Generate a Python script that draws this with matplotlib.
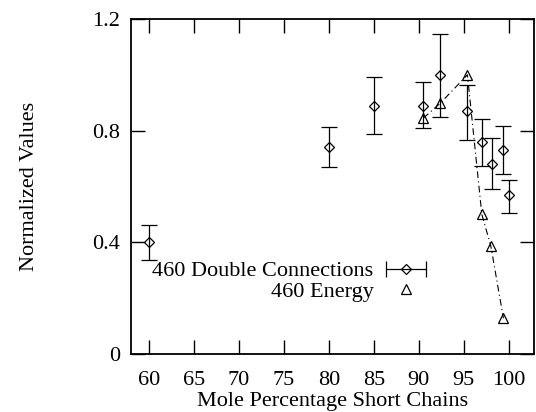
import matplotlib
matplotlib.use("Agg")
import matplotlib.pyplot as plt
from matplotlib.legend_handler import HandlerErrorbar
import numpy as np

# Data: 460 Double Connections (with asymmetric error bars)
x_dc = [60, 80, 85, 90.5, 92.4, 95.4, 97.0, 98.1, 99.4, 100.0]
y_dc = [0.40, 0.74, 0.89, 0.89, 1.00, 0.87, 0.76, 0.68, 0.73, 0.57]
y_dc_hi = [0.463, 0.814, 0.994, 0.973, 1.148, 0.963, 0.842, 0.775, 0.817, 0.625]
y_dc_lo = [0.336, 0.669, 0.788, 0.811, 0.849, 0.768, 0.674, 0.592, 0.644, 0.506]

# Data: 460 Energy
x_en = [90.5, 92.4, 95.4, 97.0, 98.0, 99.4]
y_en = [0.845, 0.899, 1.00, 0.50, 0.387, 0.128]

x_ticks = [60, 65, 70, 75, 80, 85, 90, 95, 100]
y_ticks = [0, 0.4, 0.8, 1.2]
y_tick_labels = ["0", "0.4", "0.8", "1.2"]

plt.rcParams['font.family'] = ['Liberation Serif', 'DejaVu Serif']
plt.rcParams['font.size'] = 16

fig = plt.figure(figsize=(5.36, 4.12), dpi=100)
ax = fig.add_axes([131/536, 1-354/412, 403/536, 335/412])

yd = np.array(y_dc)
yerr = [yd - np.array(y_dc_lo), np.array(y_dc_hi) - yd]
ax.errorbar(x_dc, y_dc, yerr=yerr, fmt='D', ms=4.8, mfc='none', mec='black',
            mew=0.9, ecolor='black', elinewidth=0.9, capsize=5.5, capthick=0.9,
            color='black', zorder=3)

ax.plot(x_en, y_en, color='black', lw=0.8, linestyle=(0, (6, 3, 1, 3)), zorder=2)
ax.plot(x_en, y_en, linestyle='none', marker='^', ms=6.5, mfc='none', mec='black',
        mew=0.9, zorder=3)

ax.set_xlim(58, 102.8)
ax.set_ylim(0, 1.2)
ax.set_xticks(x_ticks)
ax.set_yticks(y_ticks)
ax.set_yticklabels(y_tick_labels)
ax.tick_params(direction='in', length=10, width=1, top=True, right=True, labelsize=16)
ax.tick_params(axis='x', pad=12)
ax.tick_params(axis='y', pad=8)
for s in ax.spines.values():
    s.set_linewidth(1.3)

ax.set_xlabel("Mole Percentage Short Chains", fontsize=16, labelpad=2)
ax.set_ylabel("Normalized Values", fontsize=16)
ax.yaxis.set_label_coords(-0.228, 0.5)

# legend proxies
h_dc = ax.errorbar([np.nan], [np.nan], xerr=[1], fmt='D', ms=4.8, mfc='none', mec='black',
                   mew=0.9, ecolor='black', elinewidth=0.9, capsize=5.5, capthick=0.9, color='black')
h_en, = ax.plot([np.nan], [np.nan], linestyle='none', marker='^', ms=6.5, mfc='none',
                mec='black', mew=0.9)
leg = ax.legend([h_dc, h_en], ["460 Double Connections", "460 Energy"],
                handler_map={type(h_dc): HandlerErrorbar(xerr_size=0.9)},
                loc='center right', bbox_to_anchor=(428/536, 1-281.5/412),
                bbox_transform=fig.transFigure, frameon=False, markerfirst=False,
                borderpad=0, borderaxespad=0, handlelength=2.0, handletextpad=0.45,
                labelspacing=0.0, fontsize=16)

fig.savefig("out.png", dpi=100)
